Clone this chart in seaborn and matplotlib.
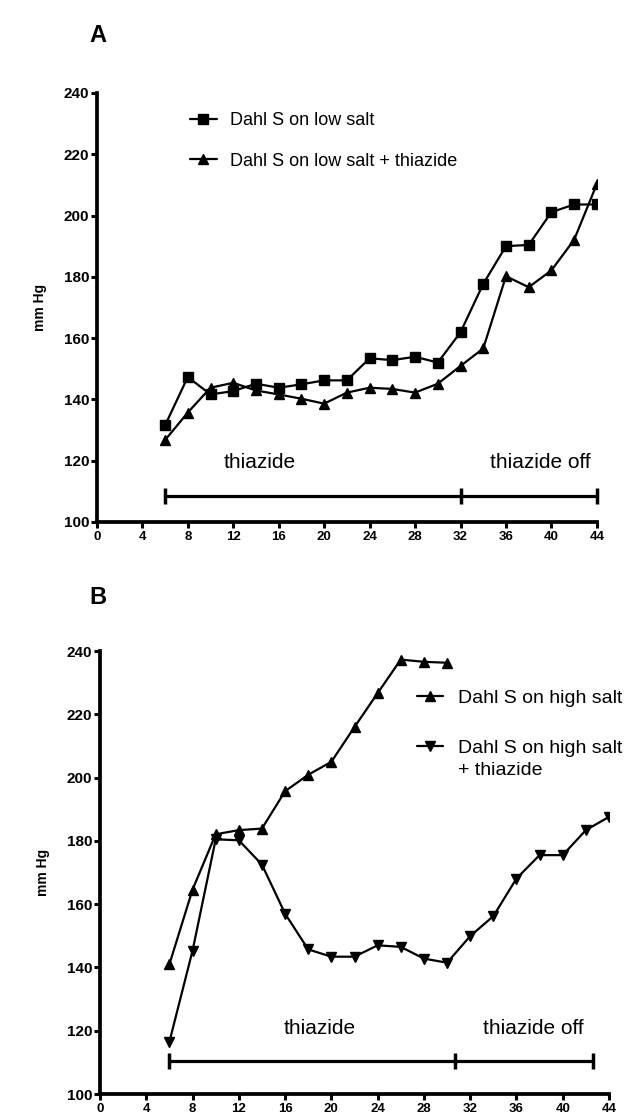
import pandas as pd
import matplotlib.pyplot as plt
import seaborn as sns

# ---- data ----
weeks = [6, 8, 10, 12, 14, 16, 18, 20, 22, 24, 26, 28, 30, 32, 34, 36, 38, 40, 42, 44]
low_salt = [131.5, 147.3, 141.6, 142.7, 145.1, 143.8, 144.9, 146.2, 146.2, 153.4,
            152.8, 153.9, 152.0, 161.9, 177.7, 190.0, 190.4, 201.1, 203.6, 203.6]
low_salt_thz = [126.7, 135.7, 143.8, 145.4, 142.9, 141.6, 140.2, 138.6, 142.2, 143.8,
                143.4, 142.2, 145.1, 150.9, 156.6, 180.2, 176.6, 182.1, 192.1, 210.3]

weeks_high = [6, 8, 10, 12, 14, 16, 18, 20, 22, 24, 26, 28, 30]
high_salt = [141.0, 164.6, 182.1, 183.4, 183.9, 195.7, 200.9, 205.0, 216.0, 226.7,
             237.3, 236.6, 236.3]
high_salt_thz = [116.5, 145.3, 180.5, 180.2, 172.5, 157.0, 145.7, 143.4, 143.4, 147.0,
                 146.5, 142.8, 141.5, 149.9, 156.2, 168.1, 175.5, 175.5, 183.4, 187.6]

# treatment periods (start, switch, end) and the level of the bar
periods_a = [6, 32, 44]
periods_b = [6, 30.7, 42.6]
bar_level_a = 108.4
bar_level_b = 110.4
period_labels = ["thiazide", "thiazide off"]

x_ticks = list(range(0, 45, 4))
y_ticks = list(range(100, 241, 20))

sns.set_theme(style="ticks")
plt.rcParams["font.family"] = ["Liberation Sans", "DejaVu Sans"]
for key in ["text.color", "axes.labelcolor", "xtick.color", "ytick.color", "axes.edgecolor"]:
    plt.rcParams[key] = "black"

fig = plt.figure(figsize=(6.25, 11.2), dpi=100)
ax_a = fig.add_axes([0.155, 0.534, 0.80, 0.383])
ax_b = fig.add_axes([0.160, 0.0232, 0.8144, 0.3955])


def style_axes(ax):
    ax.set_xlim(0, 44)
    ax.set_ylim(100, 240)
    ax.set_xticks(x_ticks)
    ax.set_yticks(y_ticks)
    ax.set_xlabel("")
    ax.set_ylabel("mm Hg", fontsize=10, fontweight="bold", labelpad=12)
    for s in ["top", "right"]:
        ax.spines[s].set_visible(False)
    for s in ["left", "bottom"]:
        ax.spines[s].set_linewidth(2.7)
        ax.spines[s].set_color("black")
    ax.tick_params(axis="both", direction="out", length=4.5, width=2.2, color="black")
    ax.tick_params(axis="y", labelsize=11, pad=1)
    ax.tick_params(axis="x", labelsize=9.5, pad=2)
    for lab in ax.get_xticklabels() + ax.get_yticklabels():
        lab.set_fontweight("bold")
    ax.grid(False)


def draw_series(ax, x, y, marker, label, ms):
    df = pd.DataFrame({"week": x, "mmHg": y})
    sns.lineplot(data=df, x="week", y="mmHg", ax=ax, color="black", lw=1.6,
                 marker=marker, markersize=ms, markeredgecolor="black",
                 markeredgewidth=1, errorbar=None, label=label, legend=False)


def draw_periods(ax, edges, level, text_x, text_y):
    ax.plot(edges, [level] * len(edges), color="black", lw=2.3,
            marker="|", markersize=12, markeredgewidth=2.5, clip_on=False)
    for lab, tx in zip(period_labels, text_x):
        ax.text(tx, text_y, lab, ha="center", va="center", fontsize=15)


# ---- panel A ----
draw_series(ax_a, weeks, low_salt, "s", "Dahl S on low salt", 6.8)
draw_series(ax_a, weeks, low_salt_thz, "^", "Dahl S on low salt + thiazide", 7.2)
draw_periods(ax_a, periods_a, bar_level_a, [14.35, 39.0], 119.3)
style_axes(ax_a)
ax_a.legend(loc="upper left", bbox_to_anchor=(0.186, 0.955), frameon=False,
            fontsize=13, handlelength=1.5, handletextpad=0.75, labelspacing=1.3,
            borderpad=0, borderaxespad=0)

# ---- panel B ----
draw_series(ax_b, weeks_high, high_salt, "^", "Dahl S on high salt", 7.2)
draw_series(ax_b, weeks, high_salt_thz, "v", "Dahl S on high salt", 7.2)
draw_periods(ax_b, periods_b, bar_level_b, [19.0, 37.5], 120.8)
style_axes(ax_b)
leg_b = ax_b.legend(loc="upper left", bbox_to_anchor=(0.623, 0.913), frameon=False,
                    fontsize=14, handlelength=1.35, handletextpad=0.75,
                    labelspacing=1.65, borderpad=0, borderaxespad=0)

fig.text(0.157, 1 - 35 / 1120, "A", ha="center", va="center", fontsize=17, fontweight="bold")
fig.text(0.157, 1 - 597 / 1120, "B", ha="center", va="center", fontsize=17, fontweight="bold")

# second line of the last legend entry, hung under its text once the legend is laid out
fig.canvas.draw()
ax_b.annotate("+ thiazide", xy=(0, 0), xycoords=leg_b.get_texts()[1],
              xytext=(0, -3.5), textcoords="offset points", ha="left", va="top",
              fontsize=14, zorder=6)

fig.savefig("out.png", dpi=100)
